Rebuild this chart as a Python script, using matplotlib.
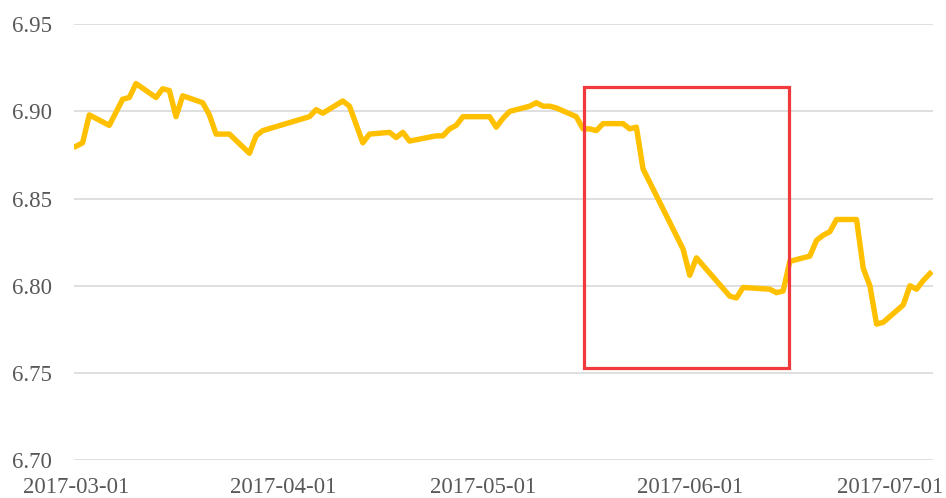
import matplotlib
matplotlib.use("Agg")
import matplotlib.pyplot as plt
import matplotlib.dates as mdates
from matplotlib.patches import Rectangle
import pandas as pd

dates = [
    "2017-03-01", "2017-03-02", "2017-03-03", "2017-03-06", "2017-03-08", "2017-03-09",
    "2017-03-10", "2017-03-13", "2017-03-14", "2017-03-15", "2017-03-16", "2017-03-17",
    "2017-03-20", "2017-03-21", "2017-03-22", "2017-03-23", "2017-03-24", "2017-03-27",
    "2017-03-28", "2017-03-29", "2017-04-05", "2017-04-06", "2017-04-07", "2017-04-10",
    "2017-04-11", "2017-04-13", "2017-04-14", "2017-04-17", "2017-04-18", "2017-04-19",
    "2017-04-20", "2017-04-24", "2017-04-25", "2017-04-26", "2017-04-27", "2017-04-28",
    "2017-05-02", "2017-05-03", "2017-05-04", "2017-05-05", "2017-05-08", "2017-05-09",
    "2017-05-10", "2017-05-11", "2017-05-12", "2017-05-15", "2017-05-16", "2017-05-17",
    "2017-05-18", "2017-05-19", "2017-05-22", "2017-05-23", "2017-05-24", "2017-05-25",
    "2017-05-31", "2017-06-01", "2017-06-02", "2017-06-07", "2017-06-08", "2017-06-09",
    "2017-06-13", "2017-06-14", "2017-06-15", "2017-06-16", "2017-06-19", "2017-06-20",
    "2017-06-21", "2017-06-22", "2017-06-23", "2017-06-26", "2017-06-27", "2017-06-28",
    "2017-06-29", "2017-06-30", "2017-07-03", "2017-07-04", "2017-07-05", "2017-07-06",
    "2017-07-07",
]
rates = [
    6.880, 6.882, 6.898, 6.892, 6.907, 6.908,
    6.916, 6.908, 6.913, 6.912, 6.897, 6.909,
    6.905, 6.898, 6.887, 6.887, 6.887, 6.876,
    6.886, 6.889, 6.897, 6.901, 6.899, 6.906,
    6.903, 6.882, 6.887, 6.888, 6.885, 6.888,
    6.883, 6.886, 6.886, 6.890, 6.892, 6.897,
    6.897, 6.891, 6.896, 6.900, 6.903, 6.905,
    6.903, 6.903, 6.902, 6.897, 6.890, 6.890,
    6.889, 6.893, 6.893, 6.890, 6.891, 6.867,
    6.821, 6.806, 6.816, 6.794, 6.793, 6.799,
    6.798, 6.796, 6.797, 6.814, 6.817, 6.826,
    6.829, 6.831, 6.838, 6.838, 6.810, 6.800,
    6.778, 6.779, 6.789, 6.800, 6.798, 6.803,
    6.807,
]
tick_dates = ["2017-03-01", "2017-04-01", "2017-05-01", "2017-06-01", "2017-07-01"]
y_ticks = [6.70, 6.75, 6.80, 6.85, 6.90, 6.95]
highlight_x = ["2017-05-16 05:00", "2017-06-15 22:00"]
highlight_y = [6.753, 6.914]

x = pd.to_datetime(dates)
fig = plt.figure(figsize=(9.46, 4.98), dpi=100)
ax = fig.add_axes([74 / 946, 38 / 498, (933 - 74) / 946, (473.7 - 38) / 498])

ax.plot(x, rates, color="#FFC000", lw=3.9, solid_joinstyle="round", zorder=3)

ax.set_ylim(y_ticks[0], y_ticks[-1])
ax.set_xlim(pd.Timestamp("2017-03-01") - pd.Timedelta(hours=7),
            pd.Timestamp("2017-07-07") + pd.Timedelta(hours=11))
ax.set_yticks(y_ticks)
ax.set_yticklabels([f"{v:.2f}" for v in y_ticks])
ax.set_xticks(pd.to_datetime(tick_dates))
ax.set_xticklabels(tick_dates)

for s in ax.spines.values():
    s.set_visible(False)
ax.grid(axis="y", color="#D9D9D9", lw=1.2, zorder=0)
ax.tick_params(axis="both", length=0, labelsize=16.5, labelcolor="#595959")
ax.tick_params(axis="y", pad=16)
ax.tick_params(axis="x", pad=12)
for lab in ax.get_xticklabels() + ax.get_yticklabels():
    lab.set_family("Liberation Serif")

hx0, hx1 = mdates.date2num(pd.to_datetime(highlight_x))
rect = Rectangle((hx0, highlight_y[0]), hx1 - hx0, highlight_y[1] - highlight_y[0],
                 fill=False, edgecolor="#F03A3E", lw=2.3, zorder=4, clip_on=False)
ax.add_patch(rect)

fig.savefig("out.png", dpi=100)
